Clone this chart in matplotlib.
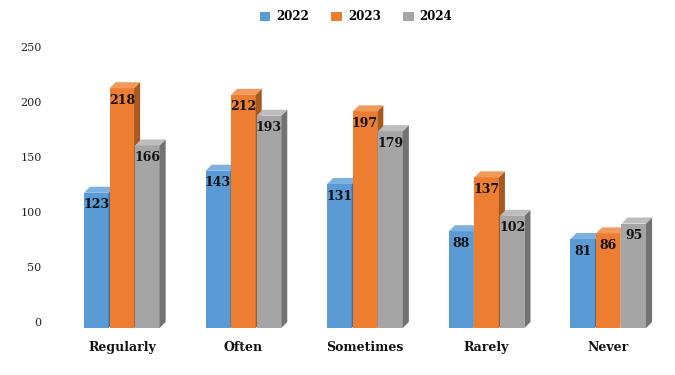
import matplotlib
matplotlib.use('Agg')
import matplotlib.pyplot as plt
from matplotlib.patches import Polygon
import numpy as np

# ==========================================
# data
# ==========================================
categories = ["Regularly", "Often", "Sometimes", "Rarely", "Never"]
years = ["2022", "2023", "2024"]
v2022 = [123, 143, 131, 88, 81]
v2023 = [218, 212, 197, 137, 86]
v2024 = [166, 193, 179, 102, 95]
y_ticks = [0, 50, 100, 150, 200, 250]

# front / top / side colours per series
front_cols = ["#5b9bd5", "#ed7d31", "#a5a5a5"]
top_cols = ["#7cb0df", "#f19a5c", "#bdbdbd"]
side_cols = ["#3f6f9c", "#a9581f", "#727272"]

FONT = "DejaVu Serif"

# 3d look
BAR_W = 0.2015
STEP = 0.21
DX = 0.05      # depth in x (category units)
DY = 5.5       # depth in y (data units)

fig = plt.figure(figsize=(6.75, 3.75), dpi=100)
ax = fig.add_axes([61 / 675, 1 - 335 / 375, 608 / 675, 295 / 375])
ax.set_xlim(-0.5, 4.5)
ax.set_ylim(-11.8, 256.4)

series = [v2022, v2023, v2024]
for s, vals in enumerate(series):
    for i, v in enumerate(vals):
        x0 = i + (s - 1) * STEP - BAR_W / 2
        x1 = x0 + BAR_W
        y0 = -DY
        y1 = v - DY
        # front face
        ax.add_patch(Polygon([(x0, y0), (x1, y0), (x1, y1), (x0, y1)],
                             closed=True, facecolor=front_cols[s], edgecolor='none', zorder=3 + s))
        # side face
        ax.add_patch(Polygon([(x1, y0), (x1 + DX, y0 + DY), (x1 + DX, y1 + DY), (x1, y1)],
                             closed=True, facecolor=side_cols[s], edgecolor='none', zorder=3 + s))
        # top face
        ax.add_patch(Polygon([(x0, y1), (x1, y1), (x1 + DX, y1 + DY), (x0 + DX, y1 + DY)],
                             closed=True, facecolor=top_cols[s], edgecolor='none', zorder=3 + s))
        ax.text((x0 + x1) / 2, y1 - 11, str(v), ha='center', va='center',
                fontsize=9, fontweight='bold', family=FONT, color='#111111', zorder=10)

for sp in ax.spines.values():
    sp.set_visible(False)
ax.set_yticks(y_ticks)
ax.set_yticklabels([str(t) for t in y_ticks], family=FONT, fontsize=8, color='#222222')
ax.tick_params(axis='y', length=0, pad=14)
ax.set_xticks(range(len(categories)))
ax.set_xticklabels(categories, family=FONT, fontsize=9, fontweight='bold', color='#111111')
ax.tick_params(axis='x', length=0, pad=4)

# legend
handles = [plt.Rectangle((0, 0), 1, 1, facecolor=c, edgecolor='none') for c in front_cols]
leg = fig.legend(handles, years, loc='center', bbox_to_anchor=(356 / 675, 1 - 17 / 375),
                 ncol=3, frameon=False, handlelength=0.9, handleheight=0.9,
                 columnspacing=1.9, handletextpad=0.5,
                 prop={'family': FONT, 'weight': 'bold', 'size': 8.5})

fig.savefig("out.png", dpi=100)
